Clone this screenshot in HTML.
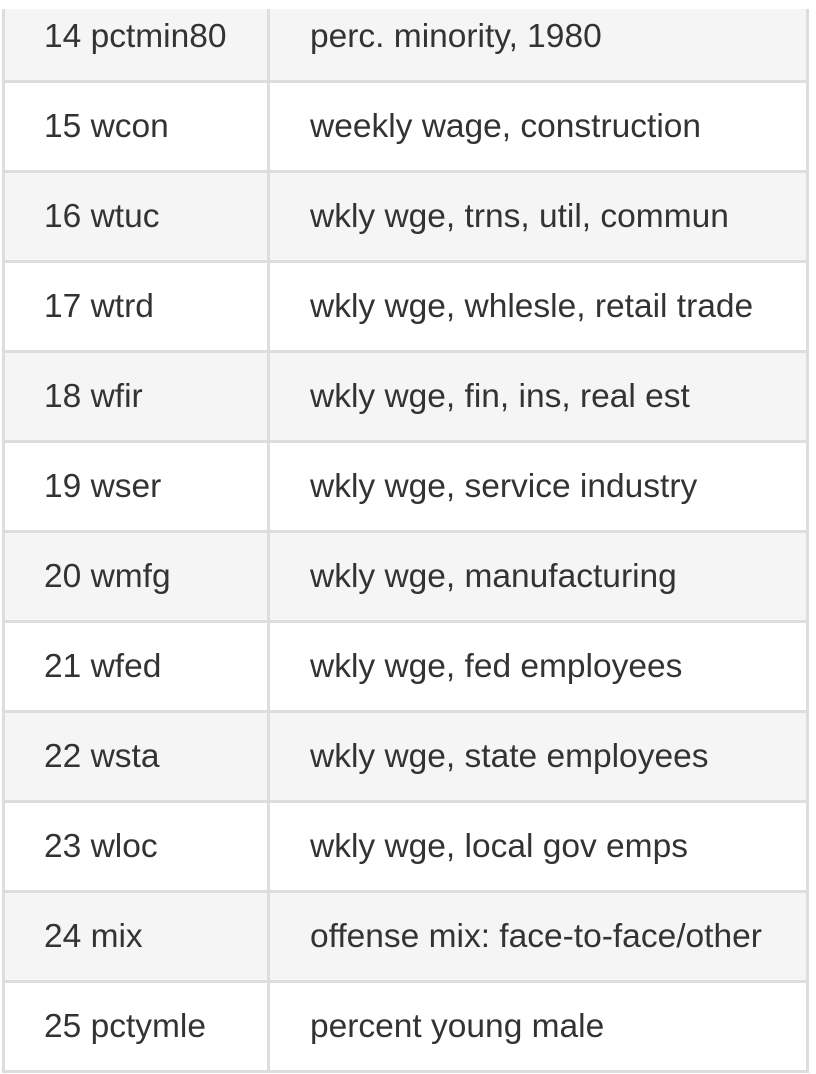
<!DOCTYPE html>
<html><head><meta charset="utf-8"><style>
html,body{margin:0;padding:0;background:#fff;width:816px;height:1074px;overflow:hidden}
body{position:relative;font-family:"Liberation Sans",Arial,sans-serif;color:#333;font-size:33.5px}
.row{position:absolute;left:2px;width:806px;height:87px}
.row.g{background:#f5f5f5}
.c{position:absolute;top:0;height:87px;line-height:87px;white-space:nowrap}
.c1{left:42px}.c2{left:308px}
.h{position:absolute;left:2px;width:807px;height:3px;background:#ddd}
.v{position:absolute;top:0;width:3px;height:1073px;background:#ddd}
#mask{position:absolute;left:0;top:0;width:816px;height:9px;background:#fff}
</style></head><body>
<div id="tbl"></div>
<script>
const names=["14 pctmin80","15 wcon","16 wtuc","17 wtrd","18 wfir","19 wser","20 wmfg","21 wfed","22 wsta","23 wloc","24 mix","25 pctymle"];
const descs=["perc. minority, 1980","weekly wage, construction","wkly wge, trns, util, commun","wkly wge, whlesle, retail trade","wkly wge, fin, ins, real est","wkly wge, service industry","wkly wge, manufacturing","wkly wge, fed employees","wkly wge, state employees","wkly wge, local gov emps","offense mix: face-to-face/other","percent young male"];
const t=document.getElementById('tbl');
names.forEach((n,i)=>{
  const top=-7+i*90;
  const r=document.createElement('div');
  r.className='row'+(i%2===0?' g':'');
  r.style.top=top+'px';
  
  
  const a=document.createElement('div');a.className='c c1';a.textContent=n;
  
  
  const b=document.createElement('div');b.className='c c2';b.textContent=descs[i];
  
  
  r.appendChild(a);r.appendChild(b);t.appendChild(r);
  const h=document.createElement('div');h.className='h';h.style.top=(top+87)+'px';
  
  
  t.appendChild(h);
});
[2,267,806].forEach(x=>{
  const v=document.createElement('div');v.className='v';v.style.left=x+'px';
  
  
  t.appendChild(v);
});
</script>
<div id="mask"></div>
</body></html>
